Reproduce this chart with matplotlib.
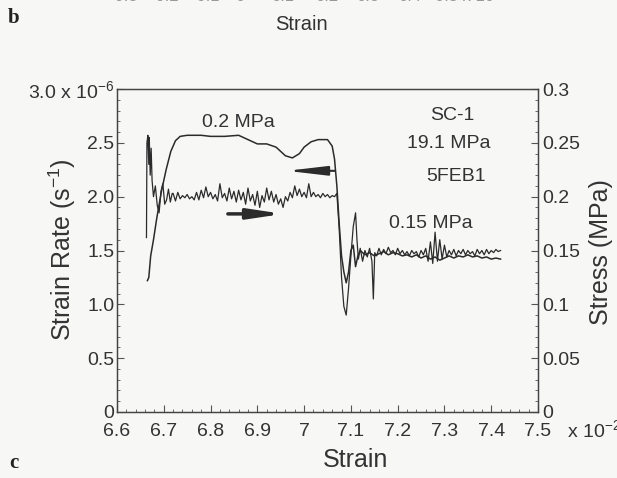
import matplotlib
matplotlib.use("Agg")
import matplotlib.pyplot as plt
from matplotlib.ticker import MultipleLocator

plt.rcParams['font.family'] = ['Liberation Sans', 'DejaVu Sans']
plt.rcParams['mathtext.fontset'] = 'custom'
plt.rcParams['mathtext.rm'] = 'Liberation Sans'
plt.rcParams['mathtext.it'] = 'Liberation Sans'

# strain (x 10^-2) and strain rate (x 10^-6 s^-1), noisy trace
rate_strain = [6.663, 6.664, 6.666, 6.668, 6.669, 6.671, 6.673, 6.675, 6.678, 6.682,
               6.686, 6.690, 6.694, 6.698, 6.702, 6.706, 6.710, 6.714, 6.718,
               6.720, 6.725, 6.730, 6.735, 6.740, 6.745, 6.750, 6.755, 6.760, 6.765,
               6.770, 6.775, 6.780, 6.785, 6.790, 6.795, 6.800, 6.805, 6.810, 6.815,
               6.820, 6.825, 6.830, 6.835, 6.840, 6.845, 6.850, 6.855, 6.860, 6.865,
               6.870, 6.875, 6.880, 6.885, 6.890, 6.895, 6.900, 6.905, 6.910, 6.915,
               6.920, 6.925, 6.930, 6.935, 6.940, 6.945, 6.950, 6.955, 6.960, 6.965,
               6.970, 6.975, 6.980, 6.985, 6.990, 6.995, 7.000, 7.005, 7.010, 7.015,
               7.020, 7.025, 7.030, 7.035, 7.040, 7.045, 7.050, 7.055, 7.060, 7.065,
               7.070, 7.075, 7.080, 7.085, 7.090, 7.095, 7.100, 7.105, 7.110, 7.113,
               7.116, 7.120, 7.125, 7.130, 7.135, 7.140, 7.145, 7.148, 7.151, 7.155,
               7.160, 7.165, 7.170, 7.175, 7.180, 7.185, 7.190, 7.195, 7.200, 7.205,
               7.210, 7.215, 7.220, 7.225, 7.230, 7.235, 7.240, 7.245, 7.250, 7.255,
               7.260, 7.265, 7.270, 7.275, 7.280, 7.285, 7.290, 7.295, 7.300, 7.305,
               7.310, 7.315, 7.320, 7.325, 7.330, 7.335, 7.340, 7.345, 7.350, 7.355,
               7.360, 7.365, 7.370, 7.375, 7.380, 7.385, 7.390, 7.395, 7.400, 7.405,
               7.410, 7.415, 7.420]
rate = [1.62, 2.50, 2.57, 2.30, 2.55, 2.20, 2.45, 2.15, 2.00, 2.10,
        1.92, 1.85, 2.05, 2.12, 1.93, 1.97, 2.07, 1.95, 2.03,
        2.03, 1.96, 2.04, 1.98, 2.01, 1.99, 2.02, 1.98, 2.00, 1.97,
        2.04, 1.97, 2.06, 1.99, 2.09, 2.00, 2.04, 1.98, 2.02, 1.96,
        2.12, 1.99, 2.03, 1.96, 2.08, 1.98, 2.05, 1.95, 2.06, 1.97,
        2.04, 1.93, 2.08, 1.96, 2.02, 1.92, 2.05, 1.90, 2.01, 1.95,
        2.08, 1.97, 2.05, 1.95, 2.02, 1.93, 1.98, 1.90, 2.00, 1.96,
        2.04, 1.99, 2.10, 2.01, 2.07, 2.00, 2.04, 1.99, 2.12, 2.00,
        2.04, 2.00, 2.02, 1.99, 2.03, 2.00, 2.02, 1.99, 2.01, 2.00,
        2.03, 1.70, 1.25, 0.98, 0.90, 1.15, 1.45, 1.72, 1.85, 1.60,
        1.42, 1.52, 1.40, 1.50, 1.44, 1.52, 1.40, 1.05, 1.48, 1.45,
        1.52, 1.46, 1.51, 1.47, 1.53, 1.48, 1.50, 1.46, 1.52, 1.47,
        1.50, 1.46, 1.49, 1.45, 1.50, 1.47, 1.49, 1.44, 1.50, 1.46,
        1.52, 1.40, 1.58, 1.38, 1.67, 1.40, 1.60, 1.42, 1.55, 1.44,
        1.50, 1.46, 1.51, 1.45, 1.50, 1.47, 1.51, 1.46, 1.50, 1.47,
        1.49, 1.45, 1.51, 1.47, 1.50, 1.46, 1.51, 1.47, 1.50, 1.48,
        1.51, 1.49, 1.50]

# strain (x 10^-2) and stress (MPa), smooth trace
stress_strain = [6.665, 6.668, 6.672, 6.678, 6.685, 6.695, 6.705, 6.715, 6.725, 6.735,
                 6.750, 6.780, 6.800, 6.830, 6.860, 6.880, 6.900, 6.920, 6.940, 6.960,
                 6.975, 6.990, 7.000, 7.015, 7.030, 7.050, 7.060, 7.065, 7.070, 7.075,
                 7.080, 7.085, 7.090, 7.095, 7.100, 7.105, 7.110, 7.115,
                 7.120, 7.130, 7.140, 7.150, 7.160, 7.170, 7.180, 7.190, 7.200, 7.210,
                 7.220, 7.230, 7.240, 7.250, 7.260, 7.270, 7.280, 7.290, 7.300, 7.310,
                 7.320, 7.330, 7.340, 7.350, 7.360, 7.370, 7.380, 7.390, 7.400, 7.410,
                 7.420]
stress = [0.122, 0.125, 0.145, 0.160, 0.180, 0.205, 0.225, 0.242, 0.252, 0.256,
          0.257, 0.257, 0.256, 0.256, 0.257, 0.253, 0.249, 0.249, 0.246, 0.238,
          0.236, 0.240, 0.246, 0.251, 0.253, 0.253, 0.247, 0.235, 0.210, 0.175,
          0.145, 0.130, 0.120, 0.130, 0.150, 0.155, 0.135, 0.145,
          0.150, 0.146, 0.148, 0.145, 0.147, 0.149, 0.146, 0.148, 0.147, 0.145,
          0.146, 0.144, 0.146, 0.143, 0.145, 0.142, 0.144, 0.141, 0.143, 0.145,
          0.143, 0.145, 0.144, 0.146, 0.144, 0.145, 0.143, 0.144, 0.142, 0.143,
          0.142]

x_ticks = [6.6, 6.7, 6.8, 6.9, 7.0, 7.1, 7.2, 7.3, 7.4, 7.5]
x_labels = ["6.6", "6.7", "6.8", "6.9", "7", "7.1", "7.2", "7.3", "7.4", "7.5"]
rate_ticks = [0, 0.5, 1.0, 1.5, 2.0, 2.5, 3.0]
rate_labels = ["0", "0.5", "1.0", "1.5", "2.0", "2.5", r"3.0 x 10$^{-6}$"]
stress_ticks = [0, 0.05, 0.1, 0.15, 0.2, 0.25, 0.3]
stress_labels = ["0", "0.05", "0.1", "0.15", "0.2", "0.25", "0.3"]
top_labels = ["-0.3", "-0.2", "-0.1", "0", "0.1", "0.2", "0.3", "0.4", "0.5 x 10"]
top_label_px = [124, 165, 205, 240, 283, 327, 368, 410, 465]

W, H = 617, 478
bg = "#f7f8f6"
ink = "#2b2b2b"


def fx(px):
    return px / W


def fy(py):
    return 1 - py / H


fig = plt.figure(figsize=(W / 100, H / 100), dpi=100, facecolor=bg)
ax = fig.add_axes([fx(117), fy(412), (538 - 117) / W, (412 - 89) / H])
ax.set_facecolor(bg)
ax2 = ax.twinx()

ax.plot(rate_strain, rate, color=ink, lw=0.9)
ax2.plot(stress_strain, stress, color=ink, lw=1.1)

ax.set_xlim(6.6, 7.5)
ax.set_ylim(0, 3.0)
ax2.set_ylim(0, 0.3)

ax.set_xticks(x_ticks)
ax.set_xticklabels(x_labels)
ax.set_yticks(rate_ticks)
ax.set_yticklabels(rate_labels)
ax2.set_yticks(stress_ticks)
ax2.set_yticklabels(stress_labels)
ax.xaxis.set_minor_locator(MultipleLocator(0.02))
ax.yaxis.set_minor_locator(MultipleLocator(0.1))
ax2.yaxis.set_minor_locator(MultipleLocator(0.01))

for a in (ax, ax2):
    for s in a.spines.values():
        s.set_color("#444444")
        s.set_linewidth(0.9)
ax.tick_params(which="both", direction="in", colors="#555555", labelcolor="#333333",
               labelsize=14, right=False, top=False)
ax.tick_params(which="major", length=5)
ax.tick_params(which="minor", length=2.5)
ax.tick_params(axis="y", pad=2)
ax.tick_params(axis="x", pad=8)
ax2.tick_params(which="both", direction="in", colors="#555555", labelcolor="#333333",
                labelsize=14, left=False)
ax2.tick_params(which="major", length=5, pad=3)
ax2.tick_params(which="minor", length=2.5)

# arrows
ax.annotate("", xy=(6.963, 2.24), xytext=(7.066, 2.24),
            arrowprops=dict(arrowstyle="-|>,head_length=2.4,head_width=0.28",
                            lw=1.5, color=ink, shrinkA=0, shrinkB=0))
ax.annotate("", xy=(6.955, 1.84), xytext=(6.837, 1.84),
            arrowprops=dict(arrowstyle="-|>,head_length=2.0,head_width=0.3",
                            lw=2.5, color=ink, shrinkA=0, shrinkB=0))

# in-plot text
txt = dict(color="#333333", fontsize=14)
ax.text(6.86, 2.69, "0.2 MPa", ha="center", va="center", **txt)
ax.text(7.317, 2.75, "SC-1", ha="center", va="center", **txt)
ax.text(7.309, 2.49, "19.1 MPa", ha="center", va="center", **txt)
ax.text(7.325, 2.19, "5FEB1", ha="center", va="center", **txt)
ax.text(7.27, 1.75, "0.15 MPa", ha="center", va="center", **txt)

# axis titles and panel letters
fig.text(fx(62), fy(250), "Strain Rate (s$^{-1}$)", rotation=90, ha="center",
         va="center", fontsize=18, color="#333333")
fig.text(fx(601), fy(252), "Stress (MPa)", rotation=90, ha="center",
         va="center", fontsize=18, color="#333333")
fig.text(fx(356), fy(460), "Strain", ha="center", va="center", fontsize=18,
         color="#333333")
fig.text(fx(567), fy(430), r"x 10$^{-2}$", ha="left", va="center", fontsize=14,
         color="#333333")
fig.text(fx(301), fy(24), "Strain", ha="center", va="center", fontsize=14.5,
         color="#333333")
fig.text(fx(14), fy(18), "b", ha="center", va="center", fontsize=15,
         fontweight="bold", family="Liberation Serif", color="#222222")
fig.text(fx(14), fy(463), "c", ha="center", va="center", fontsize=15,
         fontweight="bold", family="Liberation Serif", color="#222222")
for lab, px in zip(top_labels, top_label_px):
    fig.text(fx(px), fy(4), lab, ha="center", va="bottom", fontsize=12,
             color="#999999")

fig.savefig("out.png", dpi=100, facecolor=bg)
